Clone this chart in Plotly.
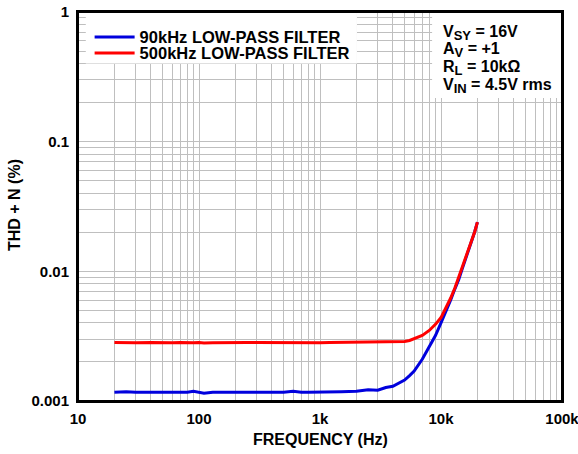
import plotly.graph_objects as go

freq = [20, 25, 30, 40, 50, 60, 70, 80, 90, 100, 110, 130, 150, 180, 200, 250,
        300, 400, 500, 600, 700, 800, 1000, 1200, 1500, 2000, 2500, 3000, 3500,
        4000, 4500, 5000, 5500, 6000, 7000, 8000, 9000, 10000, 11000, 12000,
        13000, 14000, 15000, 16000, 17000, 18000, 19000, 20000]

thd_90k = [0.00117, 0.00118, 0.00117, 0.00117, 0.00118, 0.00118, 0.00117, 0.00117,
           0.00119, 0.00117, 0.00115, 0.00117, 0.00117, 0.00118, 0.00117, 0.00118,
           0.00117, 0.00118, 0.00117, 0.00119, 0.00117, 0.00117, 0.00117, 0.00118,
           0.00118, 0.00119, 0.00122, 0.00121, 0.00127, 0.00130, 0.00137, 0.00145,
           0.00157, 0.00170, 0.00210, 0.00265, 0.00320, 0.0040, 0.0049, 0.0060,
           0.0073, 0.0086, 0.0105, 0.0125, 0.0148, 0.0172, 0.0202, 0.0240]

thd_500k = [0.00283, 0.00280, 0.00281, 0.00282, 0.00280, 0.00281, 0.00282, 0.00280,
            0.00281, 0.00282, 0.00280, 0.00281, 0.00282, 0.00281, 0.00282, 0.00283,
            0.00282, 0.00281, 0.00282, 0.00281, 0.00282, 0.00282, 0.00281, 0.00282,
            0.00283, 0.00282, 0.00284, 0.00283, 0.00284, 0.00285, 0.00286, 0.00288,
            0.00293, 0.00302, 0.0032, 0.0035, 0.0039, 0.0044, 0.0052, 0.0062,
            0.0074, 0.0090, 0.0105, 0.0125, 0.0148, 0.0172, 0.0202, 0.0240]

x_tickvals = [10, 100, 1000, 10000, 100000]
x_ticktext = ["10", "100", "1k", "10k", "100k"]
y_tickvals = [0.001, 0.01, 0.1, 1]
y_ticktext = ["0.001", "0.01", "0.1", "1"]

condition_lines = [("V", "SY", " = 16V"), ("A", "V", " = +1"),
                   ("R", "L", " = 10kΩ"), ("V", "IN", " = 4.5V rms")]

FONT = "Liberation Sans, Arial, sans-serif"
GRID = "#bfbfbf"

fig = go.Figure()
fig.add_trace(go.Scatter(x=freq, y=thd_90k, mode="lines", name="<b>90kHz LOW-PASS FILTER</b>",
                         line=dict(color="#0000dd", width=3), legend="legend"))
fig.add_trace(go.Scatter(x=freq, y=thd_500k, mode="lines", name="<b>500kHz LOW-PASS FILTER</b>",
                         line=dict(color="#ff0000", width=3), legend="legend2"))

leg_common = dict(xanchor="left", yanchor="top", bgcolor="rgba(0,0,0,0)", borderwidth=0,
                  font=dict(size=16.5), itemwidth=40)
fig.update_layout(
    width=578, height=454,
    margin=dict(l=78, r=16, t=12, b=53, autoexpand=False),
    paper_bgcolor="white", plot_bgcolor="white",
    font=dict(family=FONT, size=15, color="black"),
    legend=dict(x=0.024, y=0.980, **leg_common),
    legend2=dict(x=0.024, y=0.939, **leg_common),
    showlegend=True,
)

fig.update_xaxes(
    type="log", range=[1, 5], automargin=False,
    tickvals=x_tickvals, ticktext=["<b>%s</b>" % t for t in x_ticktext],
    tickfont=dict(size=15), ticklabeloverflow="allow",
    showline=True, linecolor="black", linewidth=2, mirror=True,
    showgrid=True, gridcolor=GRID, gridwidth=1,
    minor=dict(showgrid=True, gridcolor=GRID, gridwidth=1, dtick="D1", ticks=""),
    ticks="outside", ticklen=3, tickcolor="white",
    zeroline=False,
)
fig.update_yaxes(
    type="log", range=[-3, 0], automargin=False,
    tickvals=y_tickvals, ticktext=["<b>%s</b>" % t for t in y_ticktext],
    tickfont=dict(size=15), ticklabeloverflow="allow",
    showline=True, linecolor="black", linewidth=2, mirror=True,
    showgrid=True, gridcolor=GRID, gridwidth=1,
    minor=dict(showgrid=True, gridcolor=GRID, gridwidth=1, dtick="D1", ticks=""),
    ticks="outside", ticklen=4, tickcolor="white",
    zeroline=False,
)

# white boxes behind legend and conditions (above grid, below traces)
fig.add_shape(type="rect", xref="x", yref="y", x0=11.6, x1=2020, y0=0.40, y1=1,
              fillcolor="white", line=dict(width=0), layer="between")
fig.add_shape(type="rect", xref="x", yref="y", x0=8440, x1=100000, y0=0.217, y1=1,
              fillcolor="white", line=dict(width=0), layer="between")

# axis titles
fig.add_annotation(xref="paper", yref="paper", x=0.5, y=-0.100, xanchor="center", yanchor="middle",
                   text="<b>FREQUENCY (Hz)</b>", showarrow=False, font=dict(size=16))
fig.add_annotation(xref="paper", yref="paper", x=-0.130, y=0.504, xanchor="center", yanchor="middle",
                   text="<b>THD + N (%)</b>", showarrow=False, textangle=-90, font=dict(size=16))

# test conditions
cond_y = [0.945, 0.903, 0.855, 0.809]
for (main, subs, rest), yy in zip(condition_lines, cond_y):
    fig.add_annotation(
        xref="paper", yref="paper", x=0.750, y=yy, xanchor="left", yanchor="middle",
        text="<b>%s<sub><span style='font-size:13px'>%s</span></sub>%s</b>" % (main, subs, rest),
        showarrow=False, align="left", font=dict(size=16, family=FONT),
    )

# plot frame
fig.add_shape(type="rect", xref="paper", yref="paper", x0=0, y0=0, x1=1, y1=1,
              line=dict(color="black", width=2), layer="above")

fig.write_html("out.html", config={"displayModeBar": False},
               post_script="document.body.style.margin='0px';")
